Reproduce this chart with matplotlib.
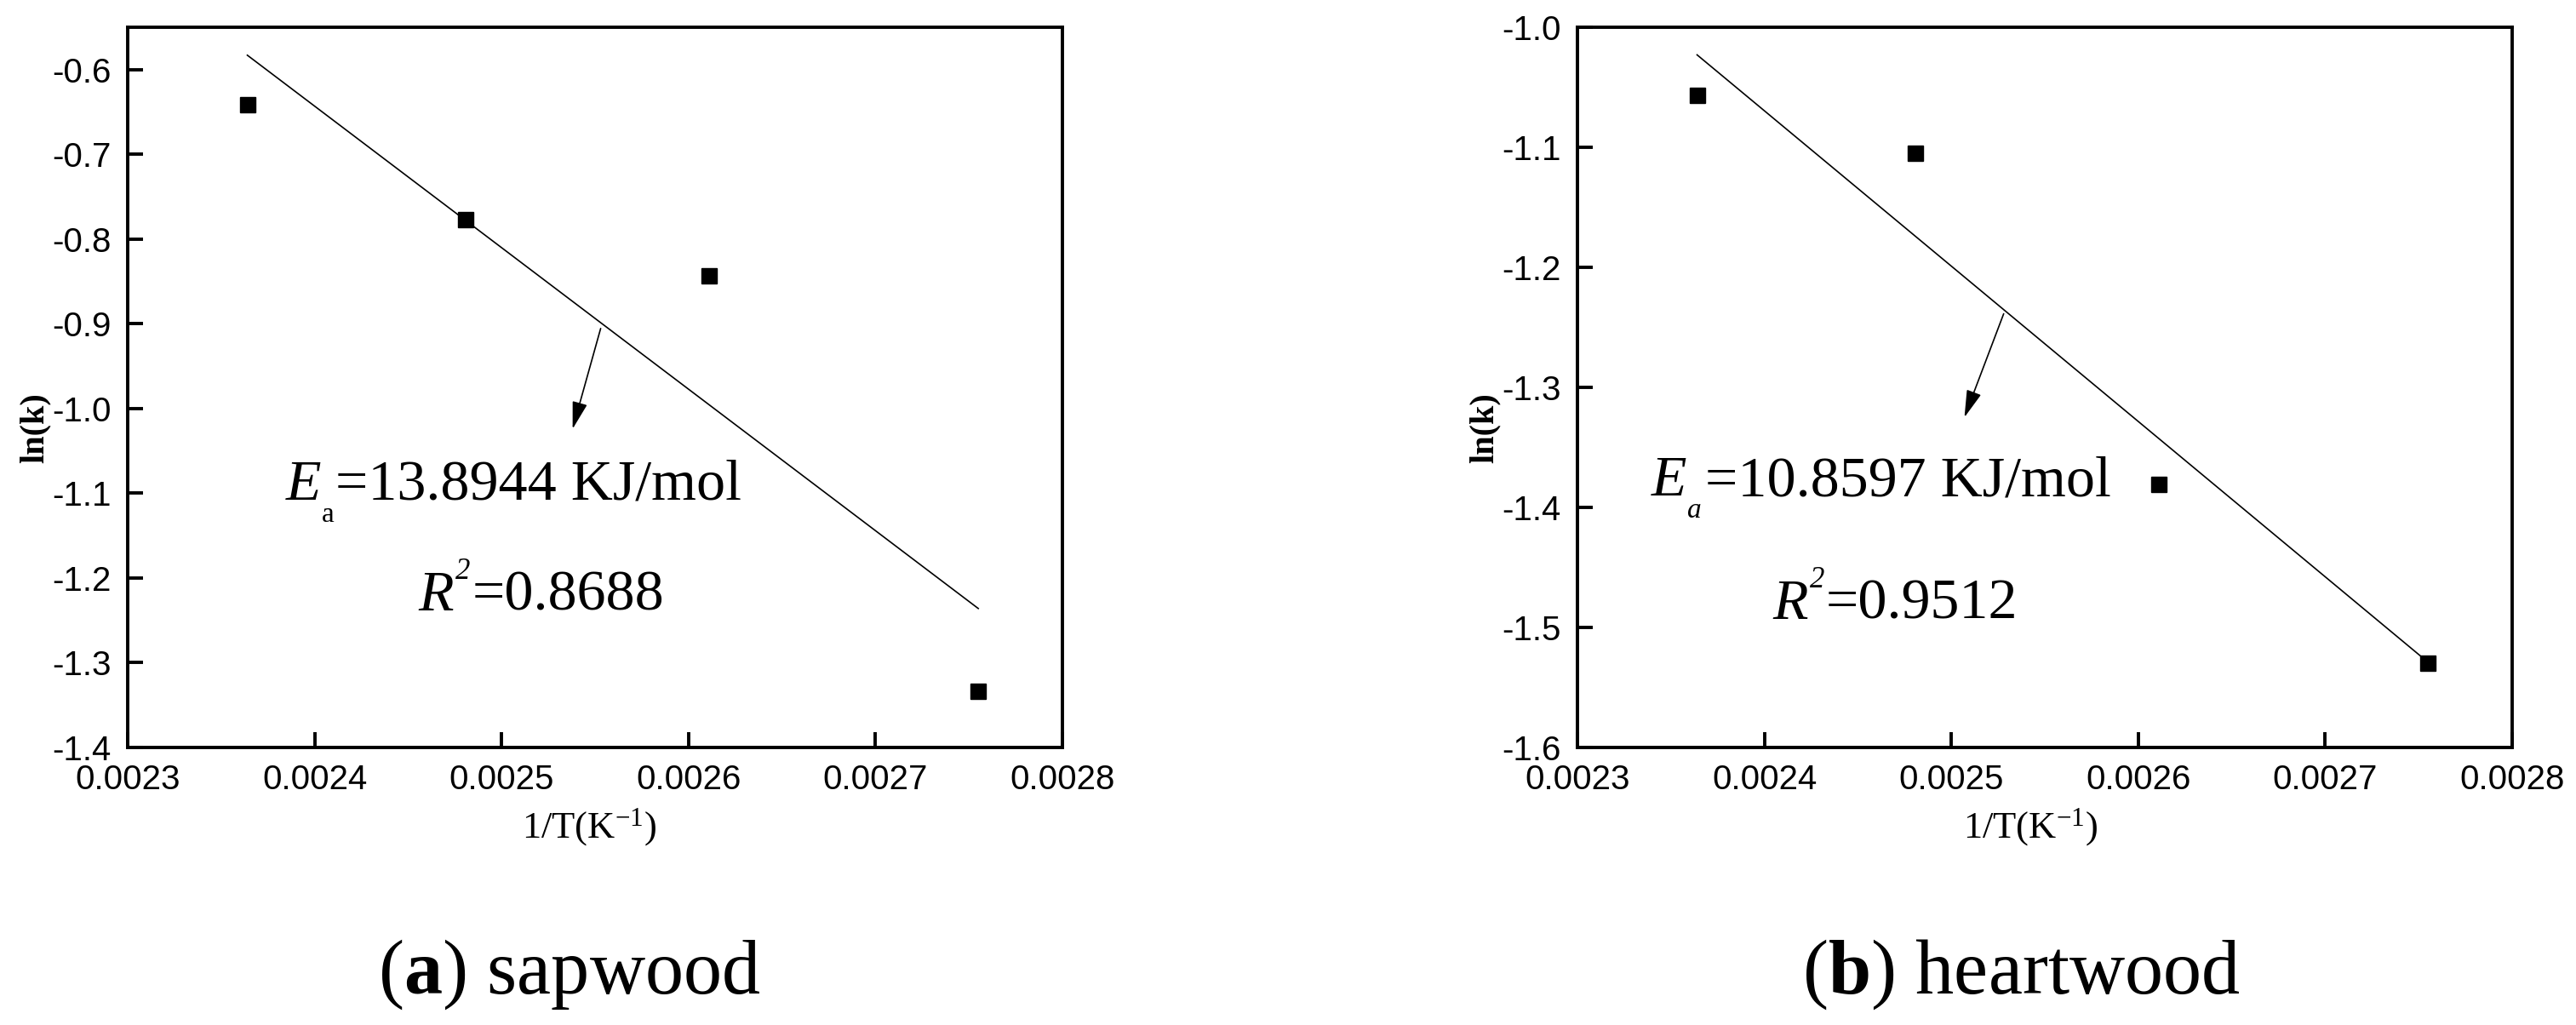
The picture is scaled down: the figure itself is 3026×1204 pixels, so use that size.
import matplotlib
matplotlib.use("Agg")
import matplotlib.pyplot as plt
from matplotlib.ticker import FixedLocator, FixedFormatter

# ---------------- data ----------------
inv_T = [0.002364, 0.002481, 0.002611, 0.002755]
sap_lnk = [-0.641, -0.777, -0.843, -1.334]
heart_lnk = [-1.057, -1.105, -1.381, -1.530]

fit_x = [0.002364, 0.002755]
sap_fit = [-0.583, -1.236]
heart_fit = [-1.023, -1.529]

x_ticks = [0.0023, 0.0024, 0.0025, 0.0026, 0.0027, 0.0028]
x_ticklabels = ["0.0023", "0.0024", "0.0025", "0.0026", "0.0027", "0.0028"]
sap_yticks = [-1.4, -1.3, -1.2, -1.1, -1.0, -0.9, -0.8, -0.7, -0.6]
sap_yticklabels = ["-1.4", "-1.3", "-1.2", "-1.1", "-1.0", "-0.9", "-0.8", "-0.7", "-0.6"]
heart_yticks = [-1.6, -1.5, -1.4, -1.3, -1.2, -1.1, -1.0]
heart_yticklabels = ["-1.6", "-1.5", "-1.4", "-1.3", "-1.2", "-1.1", "-1.0"]

sap_ea = "=13.8944 KJ/mol"
sap_r2 = "=0.8688"
heart_ea = "=10.8597 KJ/mol"
heart_r2 = "=0.9512"
captions = [r"($\mathbf{a}$) sapwood", r"($\mathbf{b}$) heartwood"]

# ---------------- style ----------------
plt.rcParams["axes.unicode_minus"] = False
plt.rcParams["mathtext.fontset"] = "custom"
plt.rcParams["mathtext.rm"] = "Liberation Serif"
plt.rcParams["mathtext.it"] = "Liberation Serif:italic"
plt.rcParams["mathtext.bf"] = "Liberation Serif:bold"

SERIF = "Liberation Serif"
W, H = 3026, 1204
fig = plt.figure(figsize=(W / 100, H / 100), dpi=100)

def px_rect(l, r, t, b):
    return [l / W, 1 - b / H, (r - l) / W, (b - t) / H]

ax1 = fig.add_axes(px_rect(150, 1248, 32, 878))
ax2 = fig.add_axes(px_rect(1853, 2951, 32, 878))

def piece(ax, xy, s, dx, dy, size, style="normal"):
    ax.annotate(s, xy=xy, xycoords="data", xytext=(dx, dy),
                textcoords="offset points", fontfamily=SERIF, fontsize=size,
                fontstyle=style, ha="left", va="baseline")

panels = [
    dict(ax=ax1, lnk=sap_lnk, fit=sap_fit, ylim=(-1.4, -0.55),
         yt=sap_yticks, ytl=sap_yticklabels,
         ea=sap_ea, epos=(0.0023847, -1.1075), sub_style="normal", eq_dx=41.8,
         r2=sap_r2, rpos=(0.0024553, -1.2382), r_eq_dx=46.0,
         a0=(0.002553, -0.9055), a1=(0.002538, -1.024), xlab_x=0.4936),
    dict(ax=ax2, lnk=heart_lnk, fit=heart_fit, ylim=(-1.6, -1.0),
         yt=heart_yticks, ytl=heart_yticklabels,
         ea=heart_ea, epos=(0.0023396, -1.3901), sub_style="italic", eq_dx=45.4,
         r2=heart_r2, rpos=(0.0024043, -1.4929), r_eq_dx=45.4,
         a0=(0.002528, -1.2387), a1=(0.002507, -1.325), xlab_x=0.485),
]

for p in panels:
    ax = p["ax"]
    ax.plot(inv_T, p["lnk"], linestyle="none", marker="s", markersize=13.5,
            color="black")
    ax.plot(fit_x, p["fit"], color="black", lw=1.2)
    ax.set_xlim(0.0023, 0.0028)
    ax.set_ylim(*p["ylim"])
    ax.xaxis.set_major_locator(FixedLocator(x_ticks))
    ax.xaxis.set_major_formatter(FixedFormatter(x_ticklabels))
    ax.yaxis.set_major_locator(FixedLocator(p["yt"]))
    ax.yaxis.set_major_formatter(FixedFormatter(p["ytl"]))
    ax.tick_params(direction="in", length=13, width=2.8, labelsize=29,
                   pad=14, top=False, right=False)
    for lab in ax.get_xticklabels() + ax.get_yticklabels():
        lab.set_fontfamily("Liberation Sans")
    for sp in ax.spines.values():
        sp.set_linewidth(2.8)
    ax.set_ylabel("ln(k)", fontfamily=SERIF, fontweight="bold", fontsize=29)
    ax.yaxis.set_label_coords(-0.082, 0.444)
    ax.set_xlabel(r"1/T(K$^{\mathrm{-1}}$)", fontfamily=SERIF, fontsize=32)
    ax.xaxis.set_label_coords(p["xlab_x"], -0.082)

    # E_a = ... KJ/mol
    piece(ax, p["epos"], "E", 0, 0, 49, "italic")
    piece(ax, p["epos"], "a", 30.2, -18.7, 24, p["sub_style"])
    piece(ax, p["epos"], p["ea"], p["eq_dx"], 0, 49)
    # R^2 = ...
    piece(ax, p["rpos"], "R", 0, 0, 49, "italic")
    piece(ax, p["rpos"], "2", 31.5, 26.6, 25, "italic")
    piece(ax, p["rpos"], p["r2"], p["r_eq_dx"], 0, 49)

    ax.annotate("", xy=p["a1"], xytext=p["a0"],
                arrowprops=dict(arrowstyle="-|>,head_length=0.9,head_width=0.25",
                                color="black", lw=1.2, mutation_scale=22,
                                shrinkA=0, shrinkB=0))

fig.text(669 / W, 1 - 1167 / H, captions[0], fontfamily=SERIF,
         fontsize=65, ha="center", va="baseline")
fig.text(2374 / W, 1 - 1167 / H, captions[1], fontfamily=SERIF,
         fontsize=65, ha="center", va="baseline")

fig.savefig("out.png", dpi=100, facecolor="white")
